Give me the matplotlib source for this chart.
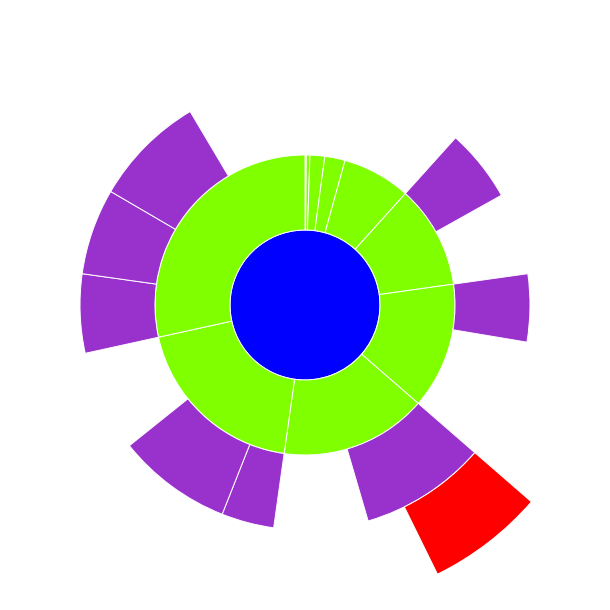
import numpy as np
import matplotlib
matplotlib.use('Agg')
import matplotlib.pyplot as plt
from matplotlib.patches import Wedge, Circle

# sunburst data, values are shares of a 360 total
green_vals = [0.5, 1.4, 5.7, 7.9, 26.5, 40, 49, 57, 69.6, 102.4]
# second ring: parent index into green ring + value
purple_parent = [5, 6, 7, 8, 8, 9, 9, 9]
purple_vals = [18.8, 17.5, 32.7, 13.6, 29.7, 20.4, 22.3, 29.0]
# third ring: parent index into purple ring + value
red_parent = [2]
red_vals = [22.8]

TOTAL = 360.0
RING = 75
COLORS = ['#0000ff', '#7fff00', '#9932cc', '#ff0000']

fig = plt.figure(figsize=(6.1, 6.1), dpi=100)
ax = fig.add_axes([0, 0, 1, 1])
ax.set_xlim(-305, 305)
ax.set_ylim(-305, 305)
ax.set_aspect('equal')
ax.axis('off')


def draw(start, val, level):
    # clockwise from 12 o'clock
    a0 = start / TOTAL * 360
    a1 = (start + val) / TOTAL * 360
    w = Wedge((0, 0), RING * (level + 1), 90 - a1, 90 - a0, width=RING,
              facecolor=COLORS[level], edgecolor='white', linewidth=0.7)
    ax.add_patch(w)


ax.add_patch(Circle((0, 0), RING, facecolor=COLORS[0], edgecolor='white', linewidth=0.7))

green_start = np.concatenate([[0], np.cumsum(green_vals)[:-1]])
for s, v in zip(green_start, green_vals):
    draw(s, v, 1)

purple_start = []
used = {}
for p, v in zip(purple_parent, purple_vals):
    s = green_start[p] + used.get(p, 0)
    used[p] = used.get(p, 0) + v
    purple_start.append(s)
    draw(s, v, 2)

used = {}
for p, v in zip(red_parent, red_vals):
    s = purple_start[p] + used.get(p, 0)
    used[p] = used.get(p, 0) + v
    draw(s, v, 3)

plt.savefig('out.png', dpi=100)
